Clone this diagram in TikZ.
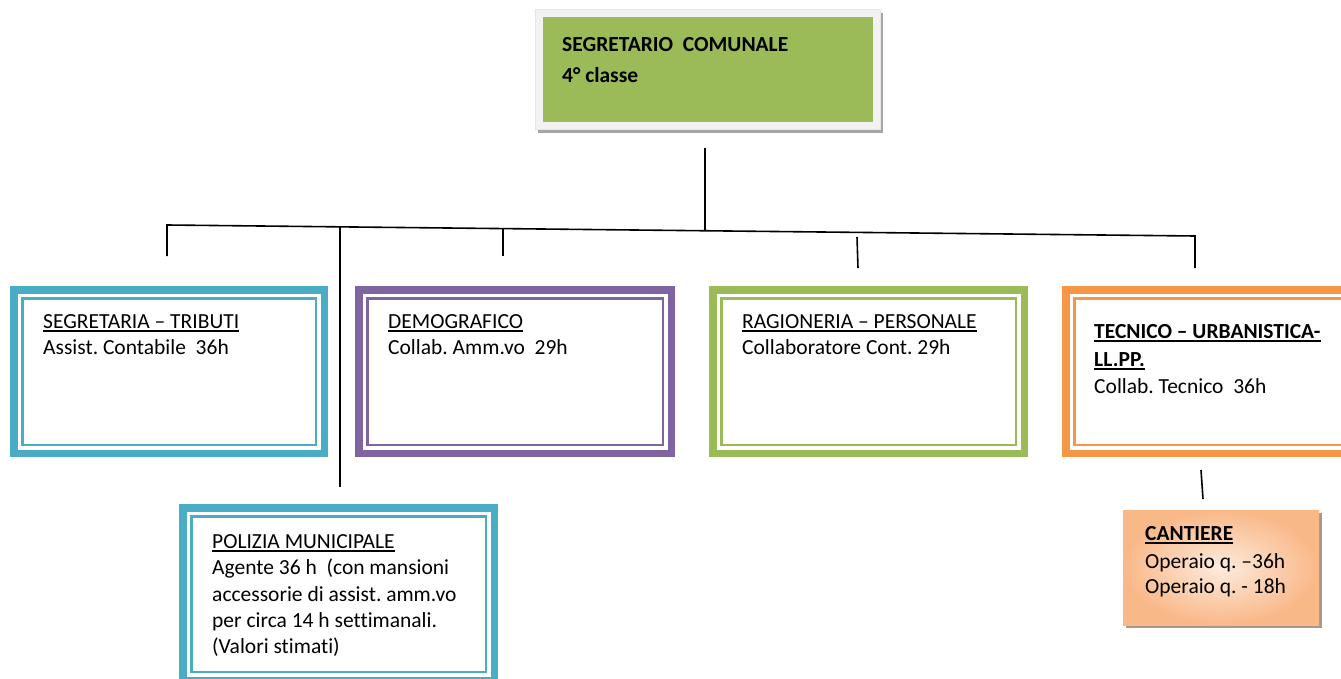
\documentclass[tikz,border=0pt]{standalone}
\usepackage{fontspec}
\setmainfont{Carlito}[Ligatures=NoCommon]
\frenchspacing
\definecolor{cblue}{HTML}{4BACC6}
\definecolor{cpurple}{HTML}{8064A2}
\definecolor{cgreen}{HTML}{9BBB59}
\definecolor{corange}{HTML}{F79646}
\definecolor{cframe}{HTML}{F2F2F2}
\definecolor{cframeedge}{HTML}{E6E6E6}
\definecolor{cshadow}{HTML}{A6A6A6}
\definecolor{cpeach}{HTML}{F9B888}
\definecolor{cpeachlight}{HTML}{FDEBDD}
\definecolor{cantshadow}{HTML}{A89888}
\begin{document}
\begin{tikzpicture}[x=1pt,y=-1pt,
  font=\fontsize{21.5}{25}\selectfont,
  frameout/.style={draw=#1, line width=7.5pt, fill=white, inner sep=0pt},
  framein/.style={draw=#1, line width=2.5pt, inner sep=0pt},
  txt/.style={anchor=base west, inner sep=0pt},
  btxt/.style={anchor=base west, inner sep=0pt, font=\fontsize{21.5}{25}\selectfont\bfseries},
  uline/.style={line width=1.6pt, black},
  conn/.style={line width=1.6pt, black},
  plainrect/.style={inner sep=0pt, draw=none}]
\useasboundingbox (0,0) rectangle (1341,679);
\fill[white] (0,0) rectangle (1341,679);

% top box
\node[plainrect, fill=cshadow, minimum width=345pt, minimum height=120pt] (topsh) at (710.5,73) {};
\node[plainrect, fill=cframe, draw=cframeedge, line width=0.8pt, minimum width=345pt, minimum height=120pt] (topfr) at (707.5,69) {};
\node[plainrect, fill=cgreen, minimum width=330pt, minimum height=105pt] (top) at (708,69.5) {};
\node[btxt] (toptxt1) at (562,52) {SEGRETARIO\ \ COMUNALE};
\node[btxt] (toptxt2) at (562,83) {4° classe};

% boxes
\node[frameout=cblue, minimum width=310.5pt, minimum height=163.5pt] (seg) at (169,371.5) {};
\node[framein=cblue, minimum width=293.5pt, minimum height=146.5pt] (segin) at (seg.center) {};
\node[frameout=cpurple, minimum width=312.5pt, minimum height=163.5pt] (dem) at (515,371.5) {};
\node[framein=cpurple, minimum width=295.5pt, minimum height=146.5pt] (demin) at (dem.center) {};
\node[frameout=cgreen, minimum width=311.5pt, minimum height=163.5pt] (rag) at (868.5,371.5) {};
\node[framein=cgreen, minimum width=294.5pt, minimum height=146.5pt] (ragin) at (rag.center) {};
\node[frameout=corange, minimum width=311.5pt, minimum height=163.5pt] (tec) at (1221.5,371.5) {};
\node[framein=corange, minimum width=294.5pt, minimum height=146.5pt] (tecin) at (tec.center) {};
\node[frameout=cblue, minimum width=311.5pt, minimum height=172.5pt] (pol) at (338.5,594) {};
\node[framein=cblue, minimum width=294.5pt, minimum height=155.5pt] (polin) at (pol.center) {};

% cantiere
\node[plainrect, fill=cantshadow, minimum width=196pt, minimum height=115pt] (cantsh) at (1224,570.5) {};
\node[plainrect, shade, shading=radial, inner color=cpeachlight, outer color=cpeach, minimum width=196pt, minimum height=115pt] (cant) at (1221,567.5) {};

% texts
\node[txt] (segt1) at (43,328) {SEGRETARIA – TRIBUTI};
\node[txt] (segt2) at (43,354) {Assist. Contabile\ \ 36h};
\node[txt] (demt1) at (388,328) {DEMOGRAFICO};
\node[txt] (demt2) at (388,354) {Collab. Amm.vo\ \ 29h};
\node[txt] (ragt1) at (742,328) {RAGIONERIA – PERSONALE\ };
\node[txt] (ragt2) at (742,354) {Collaboratore Cont. 29h};
\node[btxt] (tect1) at (1094,338) {TECNICO – URBANISTICA-};
\node[btxt] (tect2) at (1094,366) {LL.PP.};
\node[txt] (tect3) at (1094,393) {Collab. Tecnico\ \ 36h};
\node[txt] (polt1) at (212,548) {POLIZIA MUNICIPALE};
\node[txt] (polt2) at (212,574.5) {Agente 36 h\ \ (con mansioni};
\node[txt] (polt3) at (212,601) {accessorie di assist. amm.vo};
\node[txt] (polt4) at (212,627) {per circa 14 h settimanali.};
\node[txt] (polt5) at (212,653) {(Valori stimati)};
\node[btxt] (cantt1) at (1145,540) {CANTIERE};
\node[txt] (cantt2) at (1145,568) {Operaio q. –36h};
\node[txt] (cantt3) at (1145,593) {Operaio q. - 18h};

% underlines
\foreach \n in {segt1,demt1,ragt1,tect1,tect2,polt1,cantt1}
  \draw[uline] ([yshift=-3pt]\n.base west) -- ([yshift=-3pt]\n.base east);

% connectors
\coordinate (hl) at (167,225);
\coordinate (hr) at (1195,236);
\coordinate (vtop) at (705,148);
\coordinate (vjoin) at (705,230.7);
\coordinate (segend) at (167,256);
\coordinate (poltop) at (340,227);
\coordinate (polend) at (340,487);
\coordinate (demtop) at (503,228.6);
\coordinate (demend) at (503,256);
\coordinate (ragtop) at (857,237);
\coordinate (ragend) at (858,268);
\coordinate (tecend) at (1195,268);
\coordinate (canttop) at (1201,470);
\coordinate (cantend) at (1203,499);
\draw[conn] (vtop) -- (vjoin);
\draw[conn, line join=miter] (segend) -- (hl) -- (hr) -- (tecend);
\draw[conn] (poltop) -- (polend);
\draw[conn] (demtop) -- (demend);
\draw[conn] (ragtop) -- (ragend);
\draw[conn] (canttop) -- (cantend);
\end{tikzpicture}
\end{document}
